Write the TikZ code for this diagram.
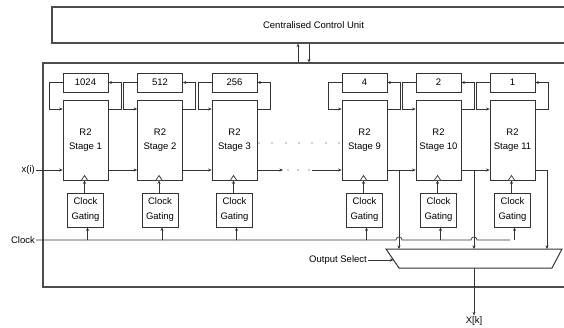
\documentclass[tikz,border=0pt]{standalone}
\usepackage{fontspec}
\setmainfont{Liberation Sans}
\usetikzlibrary{arrows.meta}
\begin{document}
\begin{tikzpicture}[x=1pt,y=-1pt,
  ln/.style={draw=black!80, line width=0.7pt},
  arr/.style={ln,-{Stealth[length=3.5pt,width=3pt]}},
  txt/.style={font=\fontsize{9.5}{14}\selectfont, inner sep=1pt},
  box/.style={ln, fill=white, inner sep=0pt, align=center, font=\fontsize{9.5}{14}\selectfont},
  bigbox/.style={draw=black!70, line width=1.2pt, inner sep=0pt},
  dotm/.style={fill=black!80}
]
\useasboundingbox (0,0) rectangle (564,327);
\clip (0,0) rectangle (564,327);
% big boxes
\node[bigbox, minimum width=523pt, minimum height=36pt, font=\fontsize{9.5}{14}\selectfont] (ccu) at (313.5,25) {Centralised Control Unit};
\node[bigbox, minimum width=542pt, minimum height=224pt] (sys) at (314,175) {};
\coordinate (u) at (298,0);
\coordinate (d) at (309,0);
\draw[arr] (sys.north -| u) -- (ccu.south -| u);
\draw[arr] (ccu.south -| d) -- (sys.north -| d);
% helper rows
\coordinate (dl) at (0,170);
\coordinate (clk) at (0,240);
% stages
\foreach \i/\lx/\reg in {1/63/1024, 2/137.5/512, 3/212/256, 9/342/4, 10/416/2, 11/490/1} {
  \pgfmathsetmacro\cx{\lx+22.5}
  \node[box, minimum width=45pt, minimum height=19pt] (r\i) at (\cx,82.5) {\reg};
  \node[box, minimum width=45pt, minimum height=80pt] (s\i) at (\cx,140) {R2\\Stage \i};
  \node[box, minimum width=36pt, minimum height=34pt, font=\fontsize{9.5}{15}\selectfont] (g\i) at (\cx,210) {Clock\\Gating};
  \draw[arr] (r\i.west) -| ({\lx-14},109) -- (s\i.west |- 0,109);
  \draw[arr] (s\i.east |- 0,109) -| ({\lx+45+13},82.5) -- (r\i.east);
  \draw[arr] ([xshift=-1pt]g\i.north) -- ([xshift=-1pt]g\i.north |- s\i.south);
  \draw[ln, fill=white] ({\cx-4},180) -- ({\cx-1},175.5) -- ({\cx+2},180);
  \draw[arr] ([xshift=2pt]g\i.south |- clk) -- ([xshift=2pt]g\i.south);
}
% data path
\node[txt, anchor=east] (xi) at (36,170) {x(i)};
\draw[arr] (xi.east) -- (s1.west |- dl);
\draw[arr] (s1.east |- dl) -- (s2.west |- dl);
\draw[arr] (s2.east |- dl) -- (s3.west |- dl);
\coordinate (d1) at (283,170);
\coordinate (d2) at (312,170);
\draw[arr] (s3.east |- dl) -- (d1);
\draw[arr] (d2) -- (s9.west |- dl);
\foreach \x in {288,298,309} \fill[dotm] (\x,170) circle (0.6pt);
\foreach \x in {259,272,286,299,312,326,339} \fill[dotm] (\x,143) circle (0.6pt);
\draw[arr] (s9.east |- dl) -- (s10.west |- dl);
\draw[arr] (s10.east |- dl) -- (s11.west |- dl);
% mux
\coordinate (mtl) at (386,249);
\coordinate (mtr) at (562,249);
\coordinate (mbr) at (552,268);
\coordinate (mbl) at (399,268);
\draw[ln, line width=1pt] (mtl) -- (mtr) -- (mbr) -- (mbl) -- cycle;
\coordinate (t9) at (399,170);
\coordinate (t10) at (474,170);
\coordinate (t11) at (547,170);
\draw[arr] (t9) -- (t9 |- mtl);
\draw[arr] (t10) -- (t10 |- mtl);
\draw[arr] (s11.east |- dl) -- (t11) -- (t11 |- mtl);
% clock line
\node[txt, anchor=east] (clklbl) at (36,240) {Clock};
\draw[ln] (clklbl.east) -- (396,240) .. controls (396,236) and (402,236) .. (402,240)
  -- (471,240) .. controls (471,236) and (477,236) .. (477,240) -- (510,240);
% output select
\node[txt, anchor=east] (os) at (368,260) {Output Select};
\draw[arr] (os.east) -- (393.5,260);
\coordinate (mo) at (474,268);
\node[txt] (xk) at (474,321) {X[k]};
\draw[arr] (mo) -- (xk.north);
\end{tikzpicture}
\end{document}
